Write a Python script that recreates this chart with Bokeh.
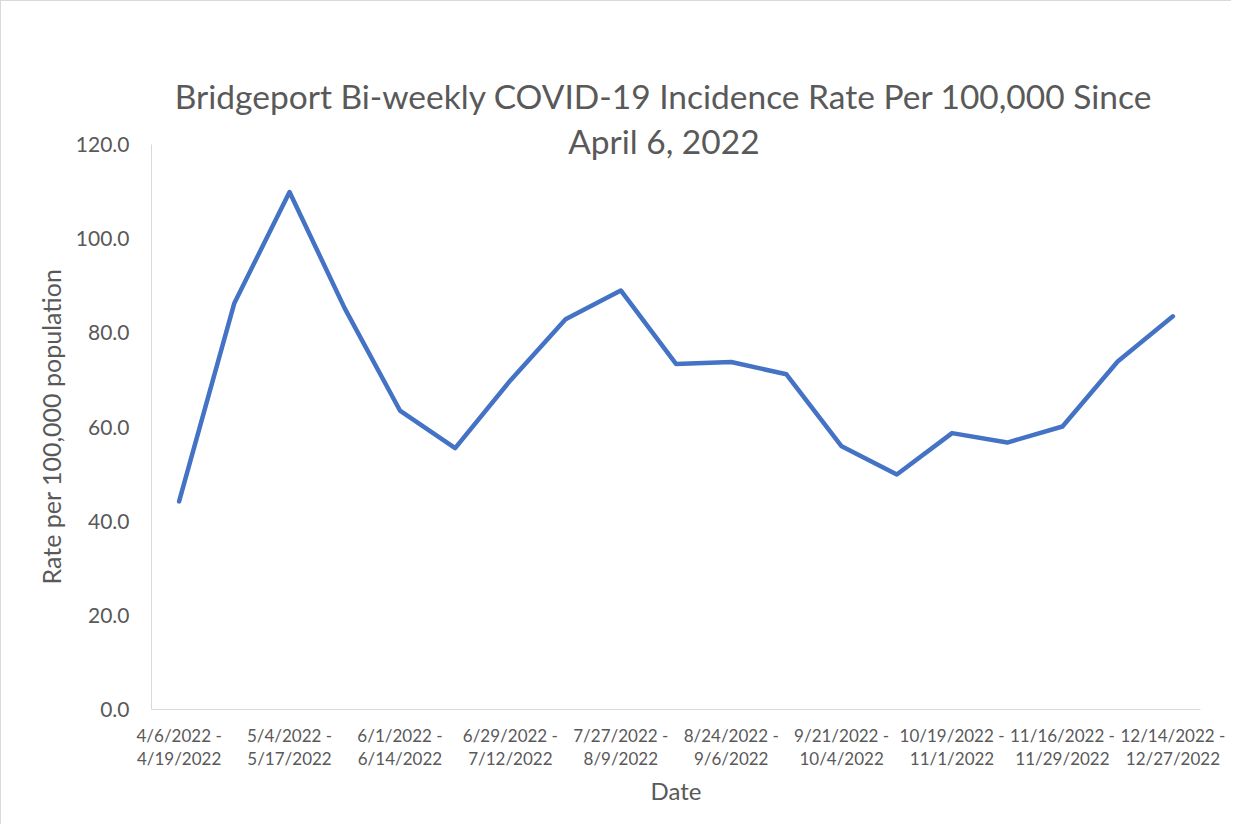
from bokeh.plotting import figure
from bokeh.models import FixedTicker, Label, NumeralTickFormatter, Range1d, Title
from bokeh.embed import file_html
from bokeh.resources import INLINE

# ---- data ----
period_starts = ["4/6/2022", "4/20/2022", "5/4/2022", "5/18/2022", "6/1/2022", "6/15/2022",
                 "6/29/2022", "7/13/2022", "7/27/2022", "8/10/2022", "8/24/2022", "9/7/2022",
                 "9/21/2022", "10/5/2022", "10/19/2022", "11/2/2022", "11/16/2022", "11/30/2022",
                 "12/14/2022"]
period_ends = ["4/19/2022", "5/3/2022", "5/17/2022", "5/31/2022", "6/14/2022", "6/28/2022",
               "7/12/2022", "7/26/2022", "8/9/2022", "8/23/2022", "9/6/2022", "9/20/2022",
               "10/4/2022", "10/18/2022", "11/1/2022", "11/15/2022", "11/29/2022", "12/13/2022",
               "12/27/2022"]
rates = [44.2, 86.3, 109.9, 85.2, 63.5, 55.5, 69.9, 82.9, 89.0, 73.4, 73.8, 71.2,
         55.9, 49.9, 58.7, 56.7, 60.1, 73.9, 83.5]
y_ticks = [0, 20, 40, 60, 80, 100, 120]
title_lines = ["Bridgeport Bi-weekly COVID-19 Incidence Rate Per 100,000 Since", "April 6, 2022"]
x_title = "Date"
y_title = "Rate per 100,000 population"

TXT = "#595959"
FONT = "Lato"
n = len(rates)
idx = list(range(n))

# frame extends above the 120 line so the overlapping title can sit inside it
p = figure(width=1231, height=824, output_backend="svg", toolbar_location=None,
           x_range=Range1d(-0.5, n - 0.5), y_range=Range1d(y_ticks[0], 146.55),
           min_border_left=150, min_border_right=32, min_border_top=18, min_border_bottom=116)
p.outline_line_color = None
p.xgrid.visible = False
p.ygrid.visible = False
p.background_fill_color = "white"
p.border_fill_color = "white"
p.styles = {"border-left": "1px solid #d9d9d9", "border-top": "1px solid #d9d9d9"}

p.line(idx, rates, line_color="#4472C4", line_width=4.5, line_join="round", line_cap="round")

# x axis
xa = p.xaxis[0]
xa.ticker = FixedTicker(ticks=idx[::2])
xa.major_label_overrides = {i: f"{period_starts[i]} -\n{period_ends[i]}" for i in idx[::2]}
xa.major_tick_line_color = None
xa.minor_tick_line_color = None
xa.axis_line_color = "#d9d9d9"
xa.major_label_text_font = FONT
xa.major_label_text_font_size = "17px"
xa.major_label_text_color = TXT
xa.major_label_text_line_height = 1.1
xa.major_label_standoff = 9
xa.axis_label = x_title
xa.axis_label_text_font = FONT
xa.axis_label_text_font_size = "24px"
xa.axis_label_text_font_style = "normal"
xa.axis_label_text_color = TXT
xa.axis_label_standoff = 4

# y axis
ya = p.yaxis[0]
ya.ticker = FixedTicker(ticks=y_ticks)
ya.bounds = (y_ticks[0], y_ticks[-1])
ya.formatter = NumeralTickFormatter(format="0.0")
ya.major_tick_line_color = None
ya.minor_tick_line_color = None
ya.axis_line_color = "#d9d9d9"
ya.major_label_text_font = FONT
ya.major_label_text_font_size = "21px"
ya.major_label_text_color = TXT
ya.major_label_standoff = 16

# y axis title, centred on the 0-120 span
p.add_layout(Title(text=y_title, align="left", offset=125, vertical_align="bottom", standoff=14,
                   text_font=FONT, text_font_size="25px", text_font_style="normal",
                   text_color=TXT), "left")

# chart title (two lines, overlapping top of plot like the original)
for txt, yb in zip(title_lines, [130.4, 120.85]):
    p.add_layout(Label(x=8.78, y=yb, text=txt, text_align="center", text_baseline="alphabetic",
                       text_font=FONT, text_font_size="33.5px", text_color=TXT))

open("out.html", "w").write(file_html(p, INLINE))
